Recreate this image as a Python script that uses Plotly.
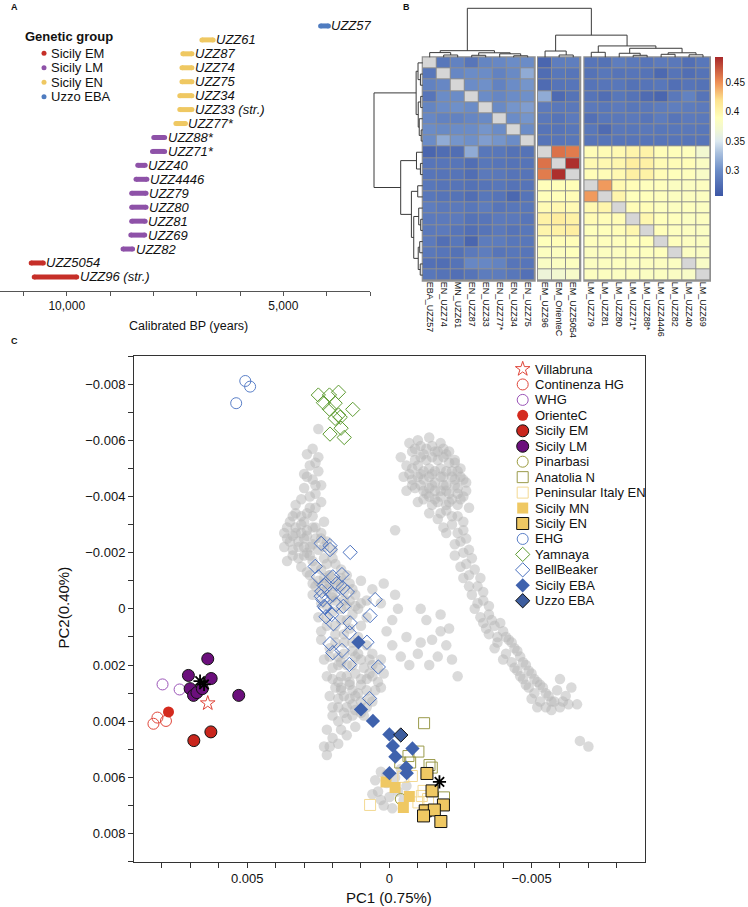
import plotly.graph_objects as go

W, H = 748, 907
FONT = "Liberation Sans, Arial, Helvetica, sans-serif"

# ---------------- Panel A: calibrated dates ----------------
a_labels = ["UZZ57", "UZZ61", "UZZ87", "UZZ74", "UZZ75", "UZZ34", "UZZ33 (str.)", "UZZ77*",
            "UZZ88*", "UZZ71*", "UZZ40", "UZZ4446", "UZZ79", "UZZ80", "UZZ81", "UZZ69", "UZZ82",
            "UZZ5054", "UZZ96 (str.)"]
a_group = ["Uzzo EBA"] + ["Sicily EN"] * 7 + ["Sicily LM"] * 9 + ["Sicily EM"] * 2
a_old = [4140, 6880, 7320, 7340, 7340, 7390, 7390, 7480, 7990, 8020, 8360, 8400, 8500, 8500,
         8500, 8520, 8700, 10820, 10750]
a_young = [3960, 6620, 7110, 7110, 7110, 7110, 7110, 7260, 7740, 7740, 8190, 8150, 8170, 8170,
           8190, 8200, 8480, 10540, 9770]
a_groups = ["Sicily EM", "Sicily LM", "Sicily EN", "Uzzo EBA"]
a_colors = {"Sicily EM": "#c62f28", "Sicily LM": "#8e52a8", "Sicily EN": "#efc862", "Uzzo EBA": "#4f7cc0"}
a_ticks = [11000, 10000, 9000, 8000, 7000, 6000, 5000, 4000, 3000]
a_ticktext = ["", "10,000", "", "", "", "", "5,000", "", ""]

# ---------------- Panel B: heatmap ----------------
hm_labels = ["EBA_UZZ57", "EN_UZZ74", "MN_UZZ61", "EN_UZZ87", "EN_UZZ33", "EN_UZZ77*", "EN_UZZ34",
             "EN_UZZ75", "EM_UZZ96", "EM_OrienteC", "EM_UZZ5054", "LM_UZZ79", "LM_UZZ81",
             "LM_UZZ80", "LM_UZZ71*", "LM_UZZ88*", "LM_UZZ4446", "LM_UZZ82", "LM_UZZ40", "LM_UZZ69"]
N = None
hm_values = [
    [N, .283, .292, .282, .294, .296, .300, .300, .270, .288, .289, .282, .279, .288, .285, .282, .286, .284, .277, .283],
    [.283, N, .296, .300, .300, .292, .298, .318, .275, .283, .282, .280, .283, .281, .282, .280, .272, .281, .276, .280],
    [.292, .296, N, .300, .302, .292, .300, .305, .274, .281, .282, .281, .282, .283, .279, .281, .283, .277, .281, .279],
    [.282, .300, .300, N, .300, .295, .300, .302, .318, .273, .280, .281, .276, .283, .280, .274, .270, .284, .292, .281],
    [.294, .300, .302, .300, N, .298, .305, .310, .286, .284, .284, .285, .283, .286, .283, .284, .287, .289, .287, .286],
    [.296, .292, .292, .295, .298, N, .300, .305, .284, .281, .286, .278, .283, .284, .285, .282, .287, .282, .286, .285],
    [.300, .298, .300, .300, .305, .300, N, .300, .281, .281, .283, .283, .274, .284, .283, .284, .283, .283, .284, .283],
    [.300, .318, .305, .302, .310, .305, .300, N, .281, .282, .283, .282, .282, .282, .282, .282, .282, .282, .282, .282],
    [.270, .275, .276, .318, .283, .283, .279, .280, N, .462, .458, .393, .394, .396, .401, .403, .392, .391, .388, .372],
    [.282, .282, .282, .276, .283, .282, .280, .281, .462, N, .490, .396, .397, .399, .408, .405, .394, .393, .392, .383],
    [.282, .281, .281, .276, .285, .284, .281, .281, .458, .490, N, .392, .393, .396, .406, .404, .393, .390, .388, .380],
    [.283, .281, .281, .279, .281, .283, .280, .281, .391, .391, .392, N, .446, .396, .392, .388, .388, .385, .384, .386],
    [.283, .281, .280, .276, .283, .281, .271, .281, .391, .391, .393, .446, N, .400, .389, .390, .388, .386, .386, .386],
    [.288, .285, .285, .283, .287, .282, .283, .283, .394, .397, .395, .396, .400, N, .393, .392, .387, .386, .387, .385],
    [.286, .286, .286, .280, .282, .286, .285, .282, .404, .409, .404, .394, .392, .393, N, .398, .390, .388, .385, .386],
    [.285, .286, .282, .277, .281, .285, .281, .283, .400, .404, .407, .389, .390, .392, .398, N, .391, .387, .386, .384],
    [.286, .277, .283, .270, .287, .287, .283, .283, .390, .392, .392, .388, .388, .388, .390, .391, N, .388, .386, .385],
    [.284, .282, .279, .285, .288, .282, .283, .282, .386, .386, .389, .386, .386, .386, .388, .387, .388, N, .384, .383],
    [.278, .276, .280, .296, .296, .293, .282, .282, .382, .384, .386, .385, .386, .387, .385, .386, .386, .384, N, .380],
    [.283, .280, .277, .281, .287, .287, .283, .278, .366, .372, .378, .386, .386, .385, .386, .384, .385, .383, .380, N],
]
hm_blocks = [(0, 8), (8, 11), (11, 20)]
# clustering tree: (merge height relative to root, left, right); leaves are indices
hm_tree = (1.0,
           (0.135, (0.096, 0, (0.047, 1, 2)), (0.092, (0.041, 3, 4), (0.071, 5, (0.031, 6, 7)))),
           (0.452, (0.128, 8, (0.047, 9, 10)),
                   (0.232, (0.102, 11, 12),
                           (0.184, (0.082, 13, (0.041, 14, 15)), (0.092, (0.061, 16, 17), (0.051, 18, 19))))))
cb_ticks = [0.3, 0.35, 0.4, 0.45]
z_min, z_max = 0.257, 0.493

# ---------------- Panel C: PCA ----------------
# reference-panel individuals (grey cloud), PC1 / PC2
gray_pc1 = [25e-4, 27e-4, 25e-4, 28e-4, 25e-4, 30e-4, 27e-4, 24e-4, 30e-4, 26e-4, 31e-4, 24e-4, 28e-4, 33e-4, 29e-4,
            35e-4, 31e-4, 27e-4, 37e-4, 33e-4, 24e-4, 30e-4, 35e-4, 27e-4, 22e-4, 32e-4, 25e-4, 29e-4, 20e-4, 34e-4,
            23e-4, 27e-4, 19e-4, 31e-4, 24e-4, 21e-4, 28e-4, 17e-4, 25e-4, 19e-4, 14e-4, 22e-4, 16e-4, 27e-4, 12e-4,
            19e-4, 24e-4, 15e-4, 10e-4, 20e-4, 13e-4, 25e-4, 17e-4, 8e-4, 22e-4, 14e-4, 19e-4, 11e-4, 24e-4, 16e-4,
            21e-4, 13e-4, 8e-4, 18e-4, 23e-4, 10e-4, 15e-4, 20e-4, 6e-4, 12e-4, 17e-4, 22e-4, 8e-4, 14e-4, 19e-4,
            4e-4, 11e-4, 16e-4, 21e-4, 7e-4, 13e-4, 18e-4, 10e-4, 15e-4, 20e-4, 12e-4, 17e-4, 20e-4, 23e-4, 22e-4,
            18e-4, 15e-4,
            29e-4, 26e-4, 29e-4, 26e-4, 28e-4, 33e-4, 26e-4, 31e-4, 36e-4, 29e-4, 34e-4, 26e-4, 32e-4, 37e-4, 30e-4,
            28e-4, 32e-4, 36e-4, 26e-4, 29e-4, 23e-4, 27e-4, 21e-4, 17e-4, 24e-4, 20e-4, 14e-4, 22e-4, 17e-4, 11e-4,
            22e-4, 15e-4, 19e-4, 10e-4, 24e-4, 16e-4, 13e-4, 19e-4, 6e-4, 11e-4, 16e-4, 21e-4, 4e-4, 9e-4, 13e-4,
            18e-4, 7e-4, 15e-4, 20e-4, 5e-4, 10e-4, 17e-4, 12e-4, 18e-4, 8e-4, 15e-4, 20e-4, 13e-4, 18e-4, 22e-4,
            21e-4,
            10e-4, 6e-4, 2e-4, -2e-4, 8e-4, 3e-4, -3e-4, -1e-4, 1e-4, -1e-4, -4e-4, -11e-4, -13e-4, -15e-4, -11e-4,
            -18e-4, -21e-4, -24e-4, -10e-4, -17e-4, -22e-4, -7e-4, -14e-4, -18e-4, -6e-4, -20e-4,
            -10e-4, -14e-4, -18e-4, -8e-4, -12e-4, -16e-4, -20e-4, -23e-4, -6e-4, -10e-4, -14e-4, -18e-4, -22e-4,
            -25e-4, -8e-4, -12e-4, -16e-4, -20e-4, -24e-4, -6e-4, -13e-4, -18e-4, -22e-4, -10e-4, -15e-4, -20e-4,
            -7e-4, -11e-4, -15e-4, -19e-4, -9e-4, -13e-4, -17e-4, -21e-4, -25e-4, -7e-4, -11e-4, -15e-4, -19e-4,
            -23e-4, -27e-4, -9e-4, -14e-4, -18e-4, -21e-4, -26e-4, -12e-4, -16e-4, -20e-4, -24e-4, -28e-4, -18e-4,
            -14e-4, -26e-4,
            -24e-4, -17e-4, -22e-4, -26e-4, -20e-4, -25e-4, -28e-4, -23e-4, -27e-4, -30e-4, -26e-4, -31e-4, -29e-4,
            -33e-4, -30e-4, -35e-4, -33e-4, -37e-4, -35e-4, -40e-4, -38e-4, -42e-4, -44e-4, -41e-4, -46e-4, -43e-4,
            -48e-4, -45e-4, -50e-4, -47e-4, -52e-4, -49e-4, -54e-4, -51e-4, -56e-4, -53e-4, -58e-4, -55e-4, -60e-4,
            -62e-4, -64e-4, -60e-4, -66e-4, -67e-4, -70e-4, -2e-4,
            -22e-4, -19e-4, -24e-4, -23e-4, -27e-4, -26e-4, -29e-4, -25e-4, -28e-4, -32e-4, -28e-4, -33e-4, -31e-4,
            -35e-4, -32e-4, -36e-4, -39e-4, -34e-4, -38e-4, -41e-4, -37e-4, -43e-4, -40e-4, -45e-4, -47e-4, -44e-4,
            -49e-4, -46e-4, -51e-4, -48e-4, -53e-4, -50e-4, -55e-4, -57e-4, -52e-4, -57e-4, -61e-4, -59e-4, -63e-4,
            3e-4, 1e-4, -2e-4, 4e-4, 0.0, -3e-4, 2e-4, -1e-4, -5e-4, 5e-4, -4e-4, 1e-4, -6e-4, 3e-4, 6e-4,
            -9e-4, -13e-4, -17e-4, -21e-4, -11e-4, -15e-4, -19e-4, -23e-4, -8e-4, -12e-4, -16e-4, -20e-4, -24e-4,
            -10e-4, -14e-4, -18e-4, -22e-4, -26e-4, -11e-4, -15e-4, -19e-4, -23e-4, -8e-4, -12e-4, -16e-4, -20e-4,
            -24e-4, -14e-4, -17e-4, -21e-4, -25e-4, -27e-4, -5e-4, -4e-4,
            27e-4, 30e-4, 34e-4, 23e-4, 26e-4, 33e-4, 29e-4, 36e-4, 24e-4, 31e-4, 28e-4, 34e-4, 23e-4, 30e-4,
            3e-4, 7e-4, 12e-4, 17e-4, 2e-4, 6e-4, 10e-4, 14e-4, 18e-4, 3e-4, 8e-4, 13e-4, 17e-4, 6e-4, 10e-4, 14e-4,
            9e-4, 16e-4, 12e-4,
            20e-4, 17e-4, 22e-4, 15e-4, 23e-4, 18e-4, 13e-4, 20e-4, 16e-4, 12e-4, 21e-4, 26e-4]
gray_pc2 = [-64e-4, -57e-4, -54e-4, -51e-4, -49e-4, -48e-4, -46e-4, -44e-4, -43e-4, -41e-4, -39e-4, -38e-4, -36e-4,
            -34e-4, -34e-4, -31e-4, -30e-4, -29e-4, -27e-4, -27e-4, -27e-4, -25e-4, -24e-4, -23e-4, -24e-4, -22e-4,
            -21e-4, -20e-4, -21e-4, -19e-4, -18e-4, -17e-4, -16e-4, -15e-4, -14e-4, -12e-4, -12e-4, -11e-4, -10e-4,
            -8e-4, -9e-4, -7e-4, -6e-4, -5e-4, -5e-4, -3e-4, -2e-4, -1e-4, -2e-4, 1e-4, 2e-4, 3e-4, 4e-4, 3e-4, 6e-4,
            7e-4, 9e-4, 10e-4, 11e-4, 12e-4, 14e-4, 15e-4, 13e-4, 17e-4, 18e-4, 18e-4, 20e-4, 21e-4, 20e-4, 23e-4,
            24e-4, 24e-4, 25e-4, 27e-4, 28e-4, 26e-4, 30e-4, 31e-4, 31e-4, 32e-4, 34e-4, 35e-4, 37e-4, 39e-4, 38e-4,
            42e-4, 43e-4, 46e-4, 49e-4, 52e-4, 48e-4, 45e-4,
            -55e-4, -52e-4, -47e-4, -44e-4, -40e-4, -37e-4, -36e-4, -33e-4, -29e-4, -28e-4, -26e-4, -25e-4, -24e-4,
            -22e-4, -22e-4, -19e-4, -18e-4, -17e-4, -15e-4, -13e-4, -11e-4, -9e-4, -9e-4, -8e-4, -6e-4, -5e-4, -3e-4,
            -1e-4, 0.0, 0.0, 3e-4, 4e-4, 6e-4, 6e-4, 8e-4, 9e-4, 12e-4, 12e-4, 16e-4, 16e-4, 16e-4, 17e-4, 21e-4,
            21e-4, 20e-4, 20e-4, 23e-4, 24e-4, 25e-4, 29e-4, 27e-4, 28e-4, 31e-4, 32e-4, 35e-4, 35e-4, 35e-4, 38e-4,
            40e-4, 43e-4, 49e-4,
            -10e-4, -7e-4, -9e-4, -5e-4, -3e-4, -2e-4, 0.0, 4e-4, 8e-4, 13e-4, 17e-4, 0.0, 4e-4, 11e-4, 12e-4, 8e-4,
            7e-4, 24e-4, 16e-4, 17e-4, 18e-4, 20e-4, 20e-4, 2e-4, 10e-4, 13e-4,
            -60e-4, -61e-4, -59e-4, -56e-4, -55e-4, -56e-4, -55e-4, -53e-4, -51e-4, -51e-4, -50e-4, -50e-4, -49e-4,
            -47e-4, -46e-4, -46e-4, -45e-4, -44e-4, -43e-4, -42e-4, -41e-4, -40e-4, -39e-4, -38e-4, -37e-4, -35e-4,
            -59e-4, -58e-4, -58e-4, -57e-4, -53e-4, -53e-4, -53e-4, -52e-4, -50e-4, -48e-4, -48e-4, -48e-4, -47e-4,
            -46e-4, -45e-4, -43e-4, -43e-4, -42e-4, -41e-4, -40e-4, -39e-4, -39e-4, -37e-4, -37e-4, -36e-4, -34e-4,
            -34e-4, -31e-4,
            -33e-4, -32e-4, -30e-4, -28e-4, -27e-4, -24e-4, -21e-4, -19e-4, -16e-4, -14e-4, -11e-4, -8e-4, -5e-4,
            -3e-4, 0.0, 2e-4, 5e-4, 6e-4, 9e-4, 8e-4, 12e-4, 11e-4, 14e-4, 16e-4, 17e-4, 19e-4, 20e-4, 22e-4, 23e-4,
            25e-4, 26e-4, 28e-4, 28e-4, 30e-4, 31e-4, 33e-4, 33e-4, 35e-4, 35e-4, 31e-4, 28e-4, 25e-4, 34e-4, 47e-4,
            49e-4, -28e-4,
            -33e-4, -29e-4, -27e-4, -23e-4, -25e-4, -20e-4, -18e-4, -15e-4, -12e-4, -11e-4, -8e-4, -6e-4, -2e-4,
            -1e-4, 3e-4, 4e-4, 5e-4, 7e-4, 10e-4, 10e-4, 14e-4, 12e-4, 18e-4, 15e-4, 19e-4, 21e-4, 22e-4, 24e-4,
            25e-4, 27e-4, 27e-4, 32e-4, 30e-4, 33e-4, 35e-4, 36e-4, 33e-4, 29e-4, 34e-4,
            58e-4, 62e-4, 60e-4, 65e-4, 67e-4, 65e-4, 70e-4, 71e-4, 68e-4, 61e-4, 57e-4, 59e-4, 63e-4, 68e-4, 66e-4,
            -57e-4, -57e-4, -56e-4, -56e-4, -54e-4, -54e-4, -54e-4, -52e-4, -50e-4, -49e-4, -49e-4, -49e-4, -49e-4,
            -47e-4, -47e-4, -47e-4, -47e-4, -46e-4, -44e-4, -44e-4, -44e-4, -44e-4, -44e-4, -42e-4, -42e-4, -42e-4,
            -41e-4, -40e-4, -38e-4, -38e-4, -39e-4, -42e-4, -47e-4, -54e-4,
            -33e-4, -31e-4, -33e-4, -31e-4, -29e-4, -29e-4, -26e-4, -25e-4, -25e-4, -27e-4, -22e-4, -21e-4, -22e-4,
            -19e-4,
            18e-4, 18e-4, 17e-4, 19e-4, 23e-4, 24e-4, 25e-4, 26e-4, 26e-4, 28e-4, 29e-4, 29e-4, 29e-4, 33e-4, 33e-4,
            32e-4, 38e-4, 37e-4, 36e-4,
            -18e-4, -14e-4, -16e-4, -12e-4, -9e-4, -10e-4, -7e-4, -4e-4, -3e-4, -1e-4, -12e-4, -8e-4]

villabruna_pc1 = [0.00639]
villabruna_pc2 = [0.00336]
continenza_pc1 = [0.00816, 0.00830, 0.00786]
continenza_pc2 = [0.00387, 0.00409, 0.00399]
whg_pc1 = [0.00798, 0.00738]
whg_pc2 = [0.00269, 0.00287]
orientec_pc1 = [0.00777]
orientec_pc2 = [0.00367]
sicily_em_pc1 = [0.00688, 0.00628]
sicily_em_pc2 = [0.00469, 0.00438]
sicily_lm_pc1 = [0.00639, 0.00707, 0.00627, 0.00701, 0.00689, 0.00677, 0.00658, 0.00530]
sicily_lm_pc2 = [0.00178, 0.00237, 0.00248, 0.00284, 0.00308, 0.00298, 0.00284, 0.00308]
pinarbasi_pc1 = [-0.00040]
pinarbasi_pc2 = [0.00677]
anatolia_pc1 = [-0.00122, -0.00102, -0.00067, -0.00073, -0.00038, -0.00141, -0.00149, -0.00192]
anatolia_pc2 = [0.00407, 0.00508, 0.00524, 0.00547, 0.00547, 0.00556, 0.00565, 0.00671]
pen_italy_pc1 = [0.00068, -0.00079, -0.00049, -0.00120, -0.00114, -0.00102, -0.00136]
pen_italy_pc2 = [0.00698, 0.00595, 0.00598, 0.00648, 0.00666, 0.00689, 0.00677]
sicily_mn_pc1 = [0.00012, -0.00020, -0.00070, -0.00049]
sicily_mn_pc2 = [0.00616, 0.00636, 0.00668, 0.00707]
sicily_en_pc1 = [-0.00132, -0.00150, -0.00190, -0.00126, -0.00158, -0.00120, -0.00181]
sicily_en_pc2 = [0.00586, 0.00648, 0.00698, 0.00719, 0.00716, 0.00737, 0.00757]
ehg_pc1 = [0.00507, 0.00490, 0.00539]
ehg_pc2 = [-0.00811, -0.00791, -0.00732]
yamnaya_pc1 = [0.00250, 0.00211, 0.00179, 0.00232, 0.00191, 0.00211, 0.00129, 0.00179, 0.00191, 0.00173,
               0.00170, 0.00209, 0.00159]
yamnaya_pc2 = [-0.00761, -0.00761, -0.00771, -0.00734, -0.00732, -0.00711, -0.00710, -0.00690, -0.00678, -0.00682,
               -0.00643, -0.00622, -0.00610]
bellbeaker_pc1 = [0.00240, 0.00209, 0.00209, 0.00138, 0.00261, 0.00250, 0.00199, 0.00167, 0.00229, 0.00185,
                  0.00164, 0.00148, 0.00238, 0.00199, 0.00240, 0.00050, 0.00229, 0.00187, 0.00162, 0.00226,
                  0.00234, 0.00068, 0.00223, 0.00203, 0.00197, 0.00138, 0.00141, 0.00209, 0.00199, 0.00167,
                  0.00079, 0.00141, 0.00039, 0.00070]
bellbeaker_pc2 = [-0.00233, -0.00225, -0.00211, -0.00201, -0.00151, -0.00114, -0.00114, -0.00122, -0.00083, -0.00090,
                  -0.00075, -0.00060, -0.00063, -0.00051, -0.00045, -0.00033, -0.00009, -0.00015, -0.00009, -0.00004,
                  -0.00033, 0.00024, 0.00028, 0.00020, 0.00053, 0.00050, 0.00085, 0.00124, 0.00156, 0.00148,
                  0.00119, 0.00198, 0.00207, 0.00319]
sicily_eba_pc1 = [0.00109, 0.00100, 0.00058, 0.0, -0.00012, -0.00021, -0.00081, 0.0, -0.00059, -0.00061]
sicily_eba_pc2 = [0.00119, 0.00358, 0.00399, 0.00447, 0.00488, 0.00526, 0.00497, 0.00585, 0.00565, 0.00585]
uzzo_eba_pc1 = [-0.00040]
uzzo_eba_pc2 = [0.00449]
star_pc1 = [0.00666, 0.00652, -0.00176]
star_pc2 = [0.00257, 0.00269, 0.00616]

pc_ticks = [0.009, 0.008, 0.007, 0.006, 0.005, 0.004, 0.003, 0.002, 0.001, 0.0,
            -0.001, -0.002, -0.003, -0.004, -0.005, -0.006, -0.007, -0.008, -0.009]
pc1_ticktext = ["", "", "", "", "0.005", "", "", "", "", "0", "", "", "", "", "\u22120.005", "", "", "", ""]
pc2_ticktext = ["", "0.008", "", "0.006", "", "0.004", "", "0.002", "", "0", "", "\u22120.002", "",
                "\u22120.004", "", "\u22120.006", "", "\u22120.008", ""]

RED = "#e0463a"
pca_series = [
    ("Villabruna", villabruna_pc1, villabruna_pc2, dict(symbol="star-open", size=11, color=RED, line=dict(width=1, color=RED))),
    ("Continenza HG", continenza_pc1, continenza_pc2, dict(symbol="circle-open", size=11, color=RED, line=dict(width=1, color=RED))),
    ("WHG", whg_pc1, whg_pc2, dict(symbol="circle-open", size=11, color="#9b55b8", line=dict(width=1, color="#9b55b8"))),
    ("OrienteC", orientec_pc1, orientec_pc2, dict(symbol="circle", size=11, color="#d42a1e", line=dict(width=0))),
    ("Sicily EM", sicily_em_pc1, sicily_em_pc2, dict(symbol="circle", size=12, color="#c9261d", line=dict(width=1, color="#111"))),
    ("Sicily LM", sicily_lm_pc1, sicily_lm_pc2, dict(symbol="circle", size=12, color="#6b0f7c", line=dict(width=1, color="#111"))),
    ("Pinarbasi", pinarbasi_pc1, pinarbasi_pc2, dict(symbol="circle-open", size=11, color="#9a9a3c", line=dict(width=1, color="#9a9a3c"))),
    ("Anatolia N", anatolia_pc1, anatolia_pc2, dict(symbol="square-open", size=11, color="#9a9a4a", line=dict(width=1, color="#9a9a4a"))),
    ("Peninsular Italy EN", pen_italy_pc1, pen_italy_pc2, dict(symbol="square-open", size=11, color="#f3d993", line=dict(width=1, color="#f3d993"))),
    ("Sicily MN", sicily_mn_pc1, sicily_mn_pc2, dict(symbol="square", size=11, color="#efc863", line=dict(width=0))),
    ("Sicily EN", sicily_en_pc1, sicily_en_pc2, dict(symbol="square", size=12, color="#efc863", line=dict(width=1, color="#111"))),
    ("EHG", ehg_pc1, ehg_pc2, dict(symbol="circle-open", size=11, color="#5b80c8", line=dict(width=1, color="#5b80c8"))),
    ("Yamnaya", yamnaya_pc1, yamnaya_pc2, dict(symbol="diamond-open", size=11, color="#5b9a2e", line=dict(width=1, color="#5b9a2e"))),
    ("BellBeaker", bellbeaker_pc1, bellbeaker_pc2, dict(symbol="diamond-open", size=11, color="#4b72c0", line=dict(width=1, color="#4b72c0"))),
    ("Sicily EBA", sicily_eba_pc1, sicily_eba_pc2, dict(symbol="diamond", size=11, color="#3f62ad", line=dict(width=0))),
    ("Uzzo EBA", uzzo_eba_pc1, uzzo_eba_pc2, dict(symbol="diamond", size=11, color="#3d5d9e", line=dict(width=1, color="#111"))),
]

# ---------------- layout constants (pixels) ----------------
def px_x(p):
    return p / W

def px_y(p):
    return 1 - p / H

A_X = (0, 370); A_Y = (12, 291)
HM_Y = (57.3, 280.7)
HM_X = [(422.7, 534.7), (538.0, 580.3), (584.3, 710.0)]
C_X = (134, 645); C_Y = (356, 861.7)
TXT = "#111111"

fig = go.Figure()

# ---- Panel A traces
for g in a_groups:
    xs, ys = [], []
    for i in range(len(a_labels)):
        if a_group[i] == g:
            xs += [a_old[i], a_young[i], None]
            ys += [i, i, None]
    fig.add_trace(go.Scatter(x=xs, y=ys, mode="lines+markers", xaxis="x", yaxis="y",
                             line=dict(color=a_colors[g], width=5),
                             marker=dict(size=5, color=a_colors[g]),
                             showlegend=False, hoverinfo="skip"))

annotations = []
for i, lab in enumerate(a_labels):
    annotations.append(dict(x=a_young[i], y=i, xref="x", yref="y", text="<i>" + lab + "</i>",
                            xanchor="left", yanchor="middle", xshift=1, showarrow=False,
                            font=dict(size=13, color=TXT)))

# ---- Panel B heatmaps
hm_colorscale = [[0.0, "#3c56a5"], [0.182, "#6b8cc7"], [0.309, "#a9c0de"], [0.394, "#dce9f0"],
                 [0.479, "#f1f7d2"], [0.564, "#ffffbb"], [0.691, "#fde28e"], [0.818, "#ee8f55"],
                 [1.0, "#a8282a"]]
shapes = []
for b, (c0, c1) in enumerate(hm_blocks):
    xa = "x%d" % (b + 2)
    cols = hm_labels[c0:c1]
    z = [[hm_values[r][c] for c in range(c0, c1)] for r in range(len(hm_labels))]
    zd = [[1 if r == c else None for c in range(c0, c1)] for r in range(len(hm_labels))]
    fig.add_trace(go.Heatmap(z=z, x=cols, y=list(range(len(hm_labels))), xaxis=xa, yaxis="y2",
                             coloraxis="coloraxis", xgap=1, ygap=1, hoverinfo="skip"))
    fig.add_trace(go.Heatmap(z=zd, x=cols, y=list(range(len(hm_labels))), xaxis=xa, yaxis="y2",
                             colorscale=[[0, "#d6d6d6"], [1, "#d6d6d6"]], showscale=False,
                             xgap=1, ygap=1, hoverinfo="skip"))
    wpx = HM_X[b][1] - HM_X[b][0]
    hpx = HM_Y[1] - HM_Y[0]
    shapes.append(dict(type="rect", xref=xa + " domain", yref="y2 domain",
                       x0=-1.0 / wpx, x1=1 + 1.0 / wpx, y0=-1.0 / hpx, y1=1 + 1.0 / hpx,
                       fillcolor="#8f8f8f", line=dict(width=0), layer="below"))

# dendrogram coordinates from the tree
leaf_pos_x = {}
leaf_pos_y = {}
rh = (HM_Y[1] - HM_Y[0]) / len(hm_labels)
for b, (c0, c1) in enumerate(hm_blocks):
    cw = (HM_X[b][1] - HM_X[b][0]) / (c1 - c0)
    for k, c in enumerate(range(c0, c1)):
        leaf_pos_x[c] = HM_X[b][0] + (k + 0.5) * cw
for r in range(len(hm_labels)):
    leaf_pos_y[r] = HM_Y[0] + (r + 0.5) * rh


def dendro(node, pos):
    if isinstance(node, int):
        return pos[node], 0.0, []
    h, a, bnode = node
    pa, ha, sa = dendro(a, pos)
    pb, hb, sb = dendro(bnode, pos)
    segs = sa + sb + [(pa, ha, pa, h), (pa, h, pb, h), (pb, h, pb, hb)]
    return (pa + pb) / 2, h, segs


_, _, segs_top = dendro(hm_tree, leaf_pos_x)
_, _, segs_left = dendro(hm_tree, leaf_pos_y)
dx, dy = [], []
for (p0, h0, p1, h1) in segs_top:
    dx += [p0, p1, None]
    dy += [HM_Y[0] - h0 * 49.0, HM_Y[0] - h1 * 49.0, None]
for (p0, h0, p1, h1) in segs_left:
    dx += [HM_X[0][0] - h0 * 48.7, HM_X[0][0] - h1 * 48.7, None]
    dy += [p0, p1, None]
fig.add_trace(go.Scatter(x=dx, y=dy, mode="lines", xaxis="x6", yaxis="y6",
                         line=dict(color="#3a3a3a", width=1), showlegend=False, hoverinfo="skip"))

# ---- Panel C traces
fig.add_trace(go.Scatter(x=gray_pc1, y=gray_pc2, mode="markers", xaxis="x5", yaxis="y5",
                         marker=dict(size=10.5, color="rgba(182,182,182,0.5)", line=dict(width=0)),
                         showlegend=False, hoverinfo="skip"))
for name, xs, ys, mk in pca_series:
    fig.add_trace(go.Scatter(x=xs, y=ys, mode="markers", name=name, xaxis="x5", yaxis="y5",
                             marker=mk, showlegend=False))
fig.add_trace(go.Scatter(x=star_pc1, y=star_pc2, mode="markers", xaxis="x5", yaxis="y5",
                         marker=dict(symbol="asterisk-open", size=11, color="#000",
                                     line=dict(width=1.8, color="#000")),
                         showlegend=False, hoverinfo="skip"))

# ---- legends (drawn on the full-figure overlay axes)
leg_x, leg_y0, leg_dy = 522.7, 369.0, 15.45
for i, (name, xs, ys, mk) in enumerate(pca_series):
    fig.add_trace(go.Scatter(x=[leg_x], y=[leg_y0 + i * leg_dy], mode="markers", xaxis="x6", yaxis="y6",
                             marker=mk, showlegend=False, hoverinfo="skip"))
    annotations.append(dict(x=leg_x + 10.5, y=leg_y0 + i * leg_dy, xref="x6", yref="y6", text=name,
                            xanchor="left", yanchor="middle", showarrow=False,
                            font=dict(size=13, color=TXT)))

ga_x, ga_y0, ga_dy = 44.0, 53.3, 14.45
for i, g in enumerate(a_groups):
    fig.add_trace(go.Scatter(x=[ga_x], y=[ga_y0 + i * ga_dy], mode="markers", xaxis="x6", yaxis="y6",
                             marker=dict(size=5, color=a_colors[g]), showlegend=False, hoverinfo="skip"))
    annotations.append(dict(x=ga_x + 5, y=ga_y0 + i * ga_dy, xref="x6", yref="y6", text=g,
                            xanchor="left", yanchor="middle", showarrow=False,
                            font=dict(size=13, color=TXT)))
annotations.append(dict(x=23, y=36.7, xref="x6", yref="y6", text="<b>Genetic group</b>", xanchor="left",
                        yanchor="middle", showarrow=False, font=dict(size=13, color=TXT)))

# titles & panel letters
annotations += [
    dict(x=188, y=326, xref="x6", yref="y6", text="Calibrated BP (years)", showarrow=False,
         xanchor="center", yanchor="middle", font=dict(size=12.5, color=TXT)),
    dict(x=389, y=897, xref="x6", yref="y6", text="PC1 (0.75%)", showarrow=False,
         xanchor="center", yanchor="middle", font=dict(size=15, color=TXT)),
    dict(x=62.5, y=608, xref="x6", yref="y6", text="PC2(0.40%)", showarrow=False, textangle=-90,
         xanchor="center", yanchor="middle", font=dict(size=15, color=TXT)),
    dict(x=9, y=7, xref="x6", yref="y6", text="<b>A</b>", showarrow=False, xanchor="left",
         yanchor="middle", font=dict(size=9, color=TXT)),
    dict(x=401, y=7, xref="x6", yref="y6", text="<b>B</b>", showarrow=False, xanchor="left",
         yanchor="middle", font=dict(size=9, color=TXT)),
    dict(x=9, y=341, xref="x6", yref="y6", text="<b>C</b>", showarrow=False, xanchor="left",
         yanchor="middle", font=dict(size=9, color=TXT)),
]

hm_x_common = dict(anchor="y2", showgrid=False, zeroline=False, ticks="", tickangle=90,
                   tickfont=dict(size=9, color=TXT), showline=False, fixedrange=True, type="category")

fig.update_layout(
    width=W, height=H, margin=dict(l=0, r=0, t=0, b=0),
    paper_bgcolor="white", plot_bgcolor="rgba(0,0,0,0)",
    font=dict(family=FONT, color=TXT),
    showlegend=False,
    xaxis=dict(domain=[px_x(A_X[0]), px_x(A_X[1])], anchor="y", range=[11540, 3000],
               showline=True, linecolor="#555", linewidth=1, ticks="outside", ticklen=4, tickcolor="#555",
               tickvals=a_ticks, ticktext=a_ticktext, tickfont=dict(size=12, color=TXT),
               showgrid=False, zeroline=False, fixedrange=True),
    yaxis=dict(domain=[px_y(A_Y[1]), px_y(A_Y[0])], anchor="x", range=[19.01, -1.0], visible=False,
               fixedrange=True),
    xaxis2=dict(domain=[px_x(HM_X[0][0]), px_x(HM_X[0][1])], range=[-0.5, 7.5], **hm_x_common),
    xaxis3=dict(domain=[px_x(HM_X[1][0]), px_x(HM_X[1][1])], range=[-0.5, 2.5], **hm_x_common),
    xaxis4=dict(domain=[px_x(HM_X[2][0]), px_x(HM_X[2][1])], range=[-0.5, 8.5], **hm_x_common),
    yaxis2=dict(domain=[px_y(HM_Y[1]), px_y(HM_Y[0])], anchor="x2", range=[19.5, -0.5], visible=False,
                fixedrange=True),
    coloraxis=dict(colorscale=hm_colorscale, cmin=z_min, cmax=z_max,
                   colorbar=dict(x=px_x(715), xanchor="left", y=px_y((HM_Y[0] + 196) / 2), yanchor="middle",
                                 len=196 - HM_Y[0], lenmode="pixels", thickness=8, thicknessmode="pixels",
                                 outlinewidth=0, ticks="", ticklen=0, tickvals=cb_ticks,
                                 ticktext=["0.3", "0.35", "0.4", "0.45"], tickfont=dict(size=10, color=TXT),
                                 xpad=0, ypad=0)),
    xaxis5=dict(domain=[px_x(C_X[0]), px_x(C_X[1])], anchor="y5", range=[0.008984, -0.00899],
                showline=True, mirror=True, linecolor="#333", linewidth=1, ticks="outside", ticklen=5,
                tickcolor="#333", tickvals=pc_ticks, ticktext=pc1_ticktext, tickfont=dict(size=13, color=TXT),
                showgrid=False, zeroline=False, fixedrange=True),
    yaxis5=dict(domain=[px_y(C_Y[1]), px_y(C_Y[0])], anchor="x5", range=[0.009, -0.009],
                showline=True, mirror=True, linecolor="#333", linewidth=1, ticks="outside", ticklen=5,
                tickcolor="#333", tickvals=pc_ticks, ticktext=pc2_ticktext, tickfont=dict(size=13, color=TXT),
                showgrid=False, zeroline=False, fixedrange=True),
    xaxis6=dict(domain=[0, 1], anchor="y6", range=[0, W], visible=False, fixedrange=True),
    yaxis6=dict(domain=[0, 1], anchor="x6", range=[H, 0], visible=False, fixedrange=True),
    annotations=annotations,
    shapes=shapes,
)

fig.write_html("out.html", config={"displayModeBar": False},
               post_script="document.body.style.margin='0px';document.body.style.padding='0px';")
